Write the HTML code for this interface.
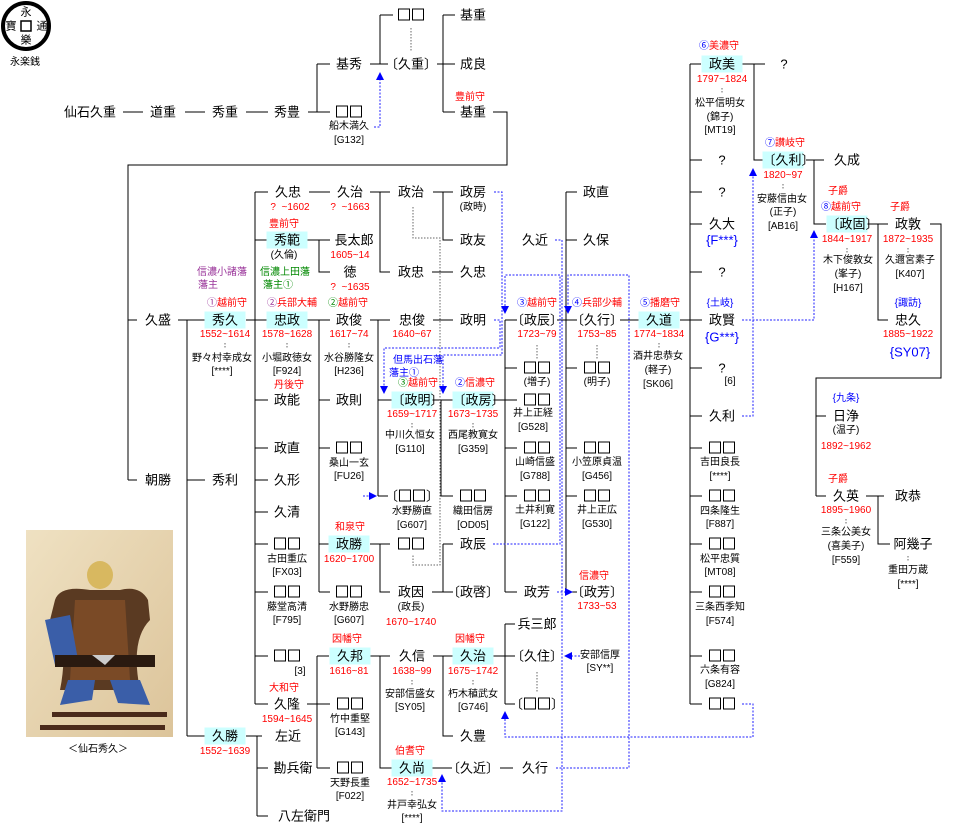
<!DOCTYPE html>
<html><head><meta charset="utf-8"><style>
body{margin:0;background:#fff;}
#c{position:relative;width:959px;height:835px;overflow:hidden;background:#fff;font-family:"Liberation Sans","Noto Sans CJK JP",sans-serif;color:#000;}
.t{position:absolute;transform:translate(-50%,-50%);white-space:nowrap;line-height:1;}
.n{font-size:13px;}
.s{font-size:10px;}
.r{font-size:10px;color:#f00;}
.b{color:#00f;}
.p{color:#939;}
.g{color:#080;}
.q{display:inline-block;width:10px;height:10px;border:1px solid #000;margin:0 1px;vertical-align:-1px;}
.bx{position:absolute;transform:translate(-50%,-50%);width:41px;height:17px;line-height:17px;background:#ccffff;text-align:center;font-size:13px;white-space:nowrap;}
svg{position:absolute;left:0;top:0;}
</style></head><body><div id="c">
<svg width="959" height="835" viewBox="0 0 959 835">
<defs><marker id="a" markerWidth="8" markerHeight="8" refX="6" refY="4" orient="auto" markerUnits="userSpaceOnUse"><path d="M0,0L8,4L0,8Z" fill="#00f"/></marker></defs>
<g stroke="#000" stroke-width="1" fill="none" shape-rendering="crispEdges">
<path d="M123 112H143M185 112H205M246 112H268M308 112H317M317 64V112M317 64H330M317 112H330M370 64H388M380 15V64M380 15H393M437 64H452M443 15V112M443 15H455M443 64H455M443 112H455M493 112H507V165H128V480M128 320H137M128 480H137"/>
<path d="M178 320H205M187 320V736M187 480H205M187 736H205M246 320H267M255 192V704M255 192H268M255 240H267M255 400H268M255 448H268M255 480H268M255 512H268M255 544H268M255 592H268M255 656H268M255 704H268"/>
<path d="M309 192H330M307 240H330M319 240V272H330M307 320H330M319 320V592M319 400H330M319 448H330M319 544H329M319 592H330"/>
<path d="M370 192H390M380 192V272H390M433 192H453M443 192V240H453M432 272H453M370 320H390M378 320V496M378 400H392M378 496H388M433 320H453"/>
<path d="M432 400H453M441 400V496H453M493 400H517M505 320V592M505 320H517M505 368H517M505 448H517M505 496H517M505 592H517"/>
<path d="M557 320H577M566 192V592M566 192H577M566 240H577M566 368H577M566 448H577M566 496H577M566 592H577M620 320H639M680 320H702"/>
<path d="M690 64V704M690 64H701M690 160H702M690 192H702M690 224H702M690 272H702M690 368H702M690 416H702M690 448H702M690 496H702M690 544H702M690 592H702M690 656H702M690 704H702"/>
<path d="M742 64H765M754 64V160H763M806 160H824M814 160V224H826M867 224H888M878 224V320H888M930 224H941V378H816V496M816 416H826M816 496H826M866 496H884M878 496V544H890"/>
<path d="M370 544H390M380 544V592H390M432 592H453M443 544V592M443 544H453"/>
<path d="M307 704H317M317 656V768M317 656H329M317 704H330M317 768H330M370 656H390M380 656V768H392M433 656H453M443 656V736H453M493 656H515M505 624V704M505 624H515M505 704H515M432 768H452M500 768H513"/>
<path d="M246 736H262M257 736V816M257 768H268M257 816H268"/>
</g>
<g stroke="#666" stroke-width="1" fill="none" stroke-dasharray="1.5 1.5">
<path d="M411 28V52M413 207V238H440V565H413V555M537 672V692M537 345V360M597 345V360"/>
<path d="M225 343V349M287 343V349M349 343V349M412 423V429M473 423V429M659 343V349M722 88V94M783 184V190M847 248V254M908 248V254M846 519V525M908 556V562M412 680V686M473 680V686M412 791V797"/>
</g>
<g stroke="#22f" stroke-width="1" fill="none" stroke-dasharray="2 1.5">
<path d="M374 127H380V74" marker-end="url(#a)"/>
<path d="M494 192H502V355H443V392" marker-end="url(#a)"/>
<path d="M494 320H500V348H384V392" marker-end="url(#a)"/>
<path d="M493 544H560V275H505V312" marker-end="url(#a)"/>
<path d="M556 768H629V275H568V312" marker-end="url(#a)"/>
<path d="M555 240H562V811H442V776" marker-end="url(#a)"/>
<path d="M557 592H571" marker-end="url(#a)"/>
<path d="M580 656H566" marker-end="url(#a)"/>
<path d="M742 704H753V737H505V713" marker-end="url(#a)"/>
<path d="M742 416H753V170" marker-end="url(#a)"/>
<path d="M742 320H814V232" marker-end="url(#a)"/>
<path d="M363 496H375" marker-end="url(#a)"/>
</g>
<circle cx="26" cy="26" r="23" fill="none" stroke="#000" stroke-width="4"/>
<rect x="21" y="21" width="10" height="10" fill="none" stroke="#000" stroke-width="1.5"/>
<defs><linearGradient id="bg" x1="0" y1="0" x2="1" y2="1"><stop offset="0" stop-color="#efe1c2"/><stop offset="1" stop-color="#dcc49a"/></linearGradient></defs>
<rect x="26" y="530" width="147" height="207" fill="url(#bg)"/>
<ellipse cx="100" cy="575" rx="13" ry="14" fill="#d8b860"/>
<path d="M55 600Q60 585 90 590L120 590Q140 585 148 600L150 620Q130 640 140 690L60 690Q70 640 50 620Z" fill="#5a3a22"/>
<path d="M75 600L125 600L130 680L70 680Z" fill="#7a4a26"/>
<path d="M45 620L70 615L78 660L55 665Z" fill="#3a5ea8"/>
<path d="M68 680L95 680L92 700L60 705Z" fill="#3a5ea8"/>
<path d="M110 680L140 680L150 705L118 703Z" fill="#3a5ea8"/>
<rect x="55" y="655" width="100" height="12" fill="#2a1a10"/>
<rect x="52" y="712" width="115" height="5" fill="#4a2a1a"/>
<rect x="40" y="725" width="125" height="5" fill="#4a2a1a"/>
<path d="M92 655L115 655L105 665Z" fill="#ccc"/>
</svg>

<div class="t" style="left:26px;top:13px;font-size:11px">永</div>
<div class="t" style="left:11px;top:27px;font-size:11px">寶</div>
<div class="t" style="left:42px;top:27px;font-size:11px">通</div>
<div class="t" style="left:26px;top:41px;font-size:11px">樂</div>
<div class="t s" style="left:25px;top:63px">永楽銭</div>
<div class="t s" style="left:98px;top:750px">＜仙石秀久＞</div>

<div class="t n" style="left:90px;top:112px">仙石久重</div>
<div class="t n" style="left:163px;top:112px">道重</div>
<div class="t n" style="left:225px;top:112px">秀重</div>
<div class="t n" style="left:287px;top:112px">秀豊</div>
<div class="t n" style="left:349px;top:64px">基秀</div>
<div class="t n" style="left:349px;top:112px"><i class="q"></i><i class="q"></i></div>
<div class="t s" style="left:349px;top:127px">船木満久</div>
<div class="t s" style="left:349px;top:141px">[G132]</div>
<div class="t n" style="left:411px;top:15px"><i class="q"></i><i class="q"></i></div>
<div class="t n" style="left:411px;top:64px">〔久重〕</div>
<div class="t n" style="left:473px;top:15px">基重</div>
<div class="t n" style="left:473px;top:64px">成良</div>
<div class="t r" style="left:470px;top:98px">豊前守</div>
<div class="t n" style="left:473px;top:112px">基重</div>

<div class="t n" style="left:158px;top:320px">久盛</div>
<div class="t n" style="left:158px;top:480px">朝勝</div>

<div class="t s p" style="left:222px;top:273px">信濃小諸藩</div>
<div class="t s p" style="left:208px;top:286px">藩主</div>
<div class="t r" style="left:227px;top:304px"><span class="p">①</span>越前守</div>
<div class="bx" style="left:225px;top:320px">秀久</div>
<div class="t r" style="left:225px;top:335px">1552~1614</div>
<div class="t s" style="left:222px;top:359px">野々村幸成女</div>
<div class="t s" style="left:222px;top:372px">[****]</div>
<div class="t n" style="left:225px;top:480px">秀利</div>
<div class="bx" style="left:225px;top:736px">久勝</div>
<div class="t r" style="left:225px;top:752px">1552~1639</div>

<div class="t n" style="left:288px;top:192px">久忠</div>
<div class="t r" style="left:290px;top:208px">?&nbsp; ~1602</div>
<div class="t r" style="left:284px;top:225px">豊前守</div>
<div class="bx" style="left:287px;top:240px">秀範</div>
<div class="t s" style="left:284px;top:256px">(久倫)</div>
<div class="t s g" style="left:285px;top:273px">信濃上田藩</div>
<div class="t s g" style="left:278px;top:286px">藩主①</div>
<div class="t r" style="left:292px;top:304px"><span class="p">②</span>兵部大輔</div>
<div class="bx" style="left:287px;top:320px">忠政</div>
<div class="t r" style="left:287px;top:335px">1578~1628</div>
<div class="t s" style="left:287px;top:359px">小堀政徳女</div>
<div class="t s" style="left:287px;top:372px">[F924]</div>
<div class="t r" style="left:289px;top:386px">丹後守</div>
<div class="t n" style="left:287px;top:400px">政能</div>
<div class="t n" style="left:287px;top:448px">政直</div>
<div class="t n" style="left:287px;top:480px">久形</div>
<div class="t n" style="left:287px;top:512px">久清</div>
<div class="t n" style="left:287px;top:544px"><i class="q"></i><i class="q"></i></div>
<div class="t s" style="left:287px;top:560px">古田重広</div>
<div class="t s" style="left:287px;top:573px">[FX03]</div>
<div class="t n" style="left:287px;top:592px"><i class="q"></i><i class="q"></i></div>
<div class="t s" style="left:287px;top:608px">藤堂高清</div>
<div class="t s" style="left:287px;top:621px">[F795]</div>
<div class="t n" style="left:287px;top:656px"><i class="q"></i><i class="q"></i></div>
<div class="t s" style="left:300px;top:672px">[3]</div>
<div class="t r" style="left:284px;top:689px">大和守</div>
<div class="t n" style="left:287px;top:704px">久隆</div>
<div class="t r" style="left:287px;top:720px">1594~1645</div>
<div class="t n" style="left:288px;top:736px">左近</div>
<div class="t n" style="left:293px;top:768px">勘兵衛</div>
<div class="t n" style="left:304px;top:816px">八左衛門</div>

<div class="t n" style="left:350px;top:192px">久治</div>
<div class="t r" style="left:350px;top:208px">?&nbsp; ~1663</div>
<div class="t n" style="left:354px;top:240px">長太郎</div>
<div class="t r" style="left:350px;top:256px">1605~14</div>
<div class="t n" style="left:350px;top:272px">徳</div>
<div class="t r" style="left:350px;top:288px">?&nbsp; ~1635</div>
<div class="t r" style="left:348px;top:304px"><span class="g">②</span>越前守</div>
<div class="t n" style="left:349px;top:320px">政俊</div>
<div class="t r" style="left:349px;top:335px">1617~74</div>
<div class="t s" style="left:349px;top:359px">水谷勝隆女</div>
<div class="t s" style="left:349px;top:372px">[H236]</div>
<div class="t n" style="left:349px;top:400px">政則</div>
<div class="t n" style="left:349px;top:448px"><i class="q"></i><i class="q"></i></div>
<div class="t s" style="left:349px;top:464px">桑山一玄</div>
<div class="t s" style="left:349px;top:477px">[FU26]</div>
<div class="t r" style="left:350px;top:528px">和泉守</div>
<div class="bx" style="left:349px;top:544px">政勝</div>
<div class="t r" style="left:349px;top:560px">1620~1700</div>
<div class="t n" style="left:349px;top:592px"><i class="q"></i><i class="q"></i></div>
<div class="t s" style="left:349px;top:608px">水野勝忠</div>
<div class="t s" style="left:349px;top:621px">[G607]</div>
<div class="t r" style="left:347px;top:640px">因幡守</div>
<div class="bx" style="left:350px;top:656px">久邦</div>
<div class="t r" style="left:349px;top:672px">1616~81</div>
<div class="t n" style="left:350px;top:704px"><i class="q"></i><i class="q"></i></div>
<div class="t s" style="left:350px;top:720px">竹中重堅</div>
<div class="t s" style="left:350px;top:733px">[G143]</div>
<div class="t n" style="left:350px;top:768px"><i class="q"></i><i class="q"></i></div>
<div class="t s" style="left:350px;top:784px">天野長重</div>
<div class="t s" style="left:350px;top:797px">[F022]</div>

<div class="t n" style="left:411px;top:192px">政治</div>
<div class="t n" style="left:411px;top:272px">政忠</div>
<div class="t n" style="left:412px;top:320px">忠俊</div>
<div class="t r" style="left:412px;top:335px">1640~67</div>
<div class="t s b" style="left:418px;top:361px">但馬出石藩</div>
<div class="t s b" style="left:404px;top:374px">藩主①</div>
<div class="t r" style="left:418px;top:384px"><span class="g">③</span>越前守</div>
<div class="bx" style="left:412px;top:400px">〔政明〕</div>
<div class="t r" style="left:412px;top:415px">1659~1717</div>
<div class="t s" style="left:410px;top:436px">中川久恒女</div>
<div class="t s" style="left:410px;top:450px">[G110]</div>
<div class="t n" style="left:412px;top:496px">〔<i class="q"></i><i class="q"></i>〕</div>
<div class="t s" style="left:412px;top:512px">水野勝直</div>
<div class="t s" style="left:412px;top:526px">[G607]</div>
<div class="t n" style="left:411px;top:544px"><i class="q"></i><i class="q"></i></div>
<div class="t n" style="left:411px;top:592px">政因</div>
<div class="t s" style="left:411px;top:608px">(政長)</div>
<div class="t r" style="left:411px;top:623px">1670~1740</div>
<div class="t n" style="left:412px;top:656px">久信</div>
<div class="t r" style="left:412px;top:672px">1638~99</div>
<div class="t s" style="left:410px;top:695px">安部信盛女</div>
<div class="t s" style="left:410px;top:708px">[SY05]</div>
<div class="t r" style="left:410px;top:752px">伯耆守</div>
<div class="bx" style="left:412px;top:768px">久尚</div>
<div class="t r" style="left:412px;top:783px">1652~1735</div>
<div class="t s" style="left:412px;top:806px">井戸幸弘女</div>
<div class="t s" style="left:412px;top:819px">[****]</div>

<div class="t n" style="left:473px;top:192px">政房</div>
<div class="t s" style="left:473px;top:208px">(政時)</div>
<div class="t n" style="left:473px;top:240px">政友</div>
<div class="t n" style="left:473px;top:272px">久忠</div>
<div class="t n" style="left:473px;top:320px">政明</div>
<div class="t r" style="left:475px;top:384px"><span class="b">②</span>信濃守</div>
<div class="bx" style="left:473px;top:400px">〔政房〕</div>
<div class="t r" style="left:473px;top:415px">1673~1735</div>
<div class="t s" style="left:473px;top:436px">西尾教寛女</div>
<div class="t s" style="left:473px;top:450px">[G359]</div>
<div class="t n" style="left:473px;top:496px"><i class="q"></i><i class="q"></i></div>
<div class="t s" style="left:473px;top:512px">織田信房</div>
<div class="t s" style="left:473px;top:526px">[OD05]</div>
<div class="t n" style="left:473px;top:544px">政辰</div>
<div class="t n" style="left:473px;top:592px">〔政啓〕</div>
<div class="t r" style="left:470px;top:640px">因幡守</div>
<div class="bx" style="left:473px;top:656px">久治</div>
<div class="t r" style="left:473px;top:672px">1675~1742</div>
<div class="t s" style="left:473px;top:695px">朽木稙武女</div>
<div class="t s" style="left:473px;top:708px">[G746]</div>
<div class="t n" style="left:473px;top:736px">久豊</div>
<div class="t n" style="left:473px;top:768px">〔久近〕</div>

<div class="t n" style="left:535px;top:240px">久近</div>
<div class="t r" style="left:537px;top:304px"><span class="b">③</span>越前守</div>
<div class="t n" style="left:537px;top:320px">〔政辰〕</div>
<div class="t r" style="left:537px;top:335px">1723~79</div>
<div class="t n" style="left:537px;top:368px"><i class="q"></i><i class="q"></i></div>
<div class="t s" style="left:537px;top:383px">(増子)</div>
<div class="t n" style="left:537px;top:400px"><i class="q"></i><i class="q"></i></div>
<div class="t s" style="left:533px;top:414px">井上正経</div>
<div class="t s" style="left:533px;top:428px">[G528]</div>
<div class="t n" style="left:537px;top:448px"><i class="q"></i><i class="q"></i></div>
<div class="t s" style="left:535px;top:463px">山崎信盛</div>
<div class="t s" style="left:535px;top:477px">[G788]</div>
<div class="t n" style="left:537px;top:496px"><i class="q"></i><i class="q"></i></div>
<div class="t s" style="left:535px;top:511px">土井利寛</div>
<div class="t s" style="left:535px;top:525px">[G122]</div>
<div class="t n" style="left:537px;top:592px">政芳</div>
<div class="t n" style="left:537px;top:624px">兵三郎</div>
<div class="t n" style="left:537px;top:656px">〔久住〕</div>
<div class="t n" style="left:537px;top:704px">〔<i class="q"></i><i class="q"></i>〕</div>
<div class="t n" style="left:535px;top:768px">久行</div>

<div class="t n" style="left:596px;top:192px">政直</div>
<div class="t n" style="left:596px;top:240px">久保</div>
<div class="t r" style="left:597px;top:304px"><span class="b">④</span>兵部少輔</div>
<div class="t n" style="left:597px;top:320px">〔久行〕</div>
<div class="t r" style="left:597px;top:335px">1753~85</div>
<div class="t n" style="left:597px;top:368px"><i class="q"></i><i class="q"></i></div>
<div class="t s" style="left:597px;top:383px">(明子)</div>
<div class="t n" style="left:597px;top:448px"><i class="q"></i><i class="q"></i></div>
<div class="t s" style="left:597px;top:463px">小笠原貞温</div>
<div class="t s" style="left:597px;top:477px">[G456]</div>
<div class="t n" style="left:597px;top:496px"><i class="q"></i><i class="q"></i></div>
<div class="t s" style="left:597px;top:511px">井上正広</div>
<div class="t s" style="left:597px;top:525px">[G530]</div>
<div class="t r" style="left:594px;top:577px">信濃守</div>
<div class="t n" style="left:597px;top:592px">〔政芳〕</div>
<div class="t r" style="left:597px;top:607px">1733~53</div>
<div class="t s" style="left:600px;top:656px">安部信厚</div>
<div class="t s" style="left:600px;top:669px">[SY**]</div>

<div class="t r" style="left:660px;top:304px"><span class="b">⑤</span>播磨守</div>
<div class="bx" style="left:659px;top:320px">久道</div>
<div class="t r" style="left:659px;top:335px">1774~1834</div>
<div class="t s" style="left:658px;top:357px">酒井忠恭女</div>
<div class="t s" style="left:658px;top:371px">(軽子)</div>
<div class="t s" style="left:658px;top:385px">[SK06]</div>

<div class="t r" style="left:719px;top:47px"><span class="b">⑥</span>美濃守</div>
<div class="bx" style="left:722px;top:64px">政美</div>
<div class="t r" style="left:722px;top:80px">1797~1824</div>
<div class="t s" style="left:720px;top:104px">松平信明女</div>
<div class="t s" style="left:720px;top:118px">(錦子)</div>
<div class="t s" style="left:720px;top:131px">[MT19]</div>
<div class="t n" style="left:784px;top:64px">?</div>
<div class="t n" style="left:722px;top:160px">?</div>
<div class="t n" style="left:722px;top:192px">?</div>
<div class="t n" style="left:722px;top:224px">久大</div>
<div class="t n b" style="left:722px;top:240px">{F***}</div>
<div class="t n" style="left:722px;top:272px">?</div>
<div class="t s b" style="left:720px;top:304px">{土岐}</div>
<div class="t n" style="left:722px;top:320px">政賢</div>
<div class="t n b" style="left:722px;top:337px">{G***}</div>
<div class="t n" style="left:722px;top:368px">?</div>
<div class="t s" style="left:730px;top:382px">[6]</div>
<div class="t n" style="left:722px;top:416px">久利</div>
<div class="t n" style="left:722px;top:448px"><i class="q"></i><i class="q"></i></div>
<div class="t s" style="left:720px;top:463px">吉田良長</div>
<div class="t s" style="left:720px;top:477px">[****]</div>
<div class="t n" style="left:722px;top:496px"><i class="q"></i><i class="q"></i></div>
<div class="t s" style="left:720px;top:512px">四条隆生</div>
<div class="t s" style="left:720px;top:525px">[F887]</div>
<div class="t n" style="left:722px;top:544px"><i class="q"></i><i class="q"></i></div>
<div class="t s" style="left:720px;top:560px">松平忠質</div>
<div class="t s" style="left:720px;top:573px">[MT08]</div>
<div class="t n" style="left:722px;top:592px"><i class="q"></i><i class="q"></i></div>
<div class="t s" style="left:720px;top:608px">三条西季知</div>
<div class="t s" style="left:720px;top:622px">[F574]</div>
<div class="t n" style="left:722px;top:656px"><i class="q"></i><i class="q"></i></div>
<div class="t s" style="left:720px;top:671px">六条有容</div>
<div class="t s" style="left:720px;top:685px">[G824]</div>
<div class="t n" style="left:722px;top:704px"><i class="q"></i><i class="q"></i></div>

<div class="t r" style="left:785px;top:144px"><span class="b">⑦</span>讃岐守</div>
<div class="bx" style="left:783px;top:160px">〔久利〕</div>
<div class="t r" style="left:783px;top:176px">1820~97</div>
<div class="t s" style="left:782px;top:200px">安藤信由女</div>
<div class="t s" style="left:783px;top:213px">(正子)</div>
<div class="t s" style="left:783px;top:227px">[AB16]</div>
<div class="t n" style="left:847px;top:160px">久成</div>
<div class="t r" style="left:838px;top:192px">子爵</div>
<div class="t r" style="left:841px;top:208px"><span class="b">⑧</span>越前守</div>
<div class="bx" style="left:847px;top:224px">〔政固〕</div>
<div class="t r" style="left:847px;top:240px">1844~1917</div>
<div class="t s" style="left:848px;top:261px">木下俊敦女</div>
<div class="t s" style="left:848px;top:275px">(峯子)</div>
<div class="t s" style="left:848px;top:289px">[H167]</div>
<div class="t r" style="left:900px;top:208px">子爵</div>
<div class="t n" style="left:908px;top:224px">政敦</div>
<div class="t r" style="left:908px;top:240px">1872~1935</div>
<div class="t s" style="left:910px;top:261px">久邇宮素子</div>
<div class="t s" style="left:910px;top:275px">[K407]</div>
<div class="t s b" style="left:908px;top:304px">{諏訪}</div>
<div class="t n" style="left:908px;top:320px">忠久</div>
<div class="t r" style="left:908px;top:335px">1885~1922</div>
<div class="t n b" style="left:910px;top:352px">{SY07}</div>
<div class="t s b" style="left:846px;top:399px">{九条}</div>
<div class="t n" style="left:846px;top:416px">日浄</div>
<div class="t s" style="left:846px;top:431px">(温子)</div>
<div class="t r" style="left:846px;top:447px">1892~1962</div>
<div class="t r" style="left:838px;top:480px">子爵</div>
<div class="t n" style="left:846px;top:496px">久英</div>
<div class="t r" style="left:846px;top:511px">1895~1960</div>
<div class="t s" style="left:846px;top:533px">三条公美女</div>
<div class="t s" style="left:846px;top:547px">(喜美子)</div>
<div class="t s" style="left:846px;top:561px">[F559]</div>
<div class="t n" style="left:908px;top:496px">政恭</div>
<div class="t n" style="left:913px;top:544px">阿幾子</div>
<div class="t s" style="left:908px;top:571px">重田万蔵</div>
<div class="t s" style="left:908px;top:585px">[****]</div>
</div></body></html>
